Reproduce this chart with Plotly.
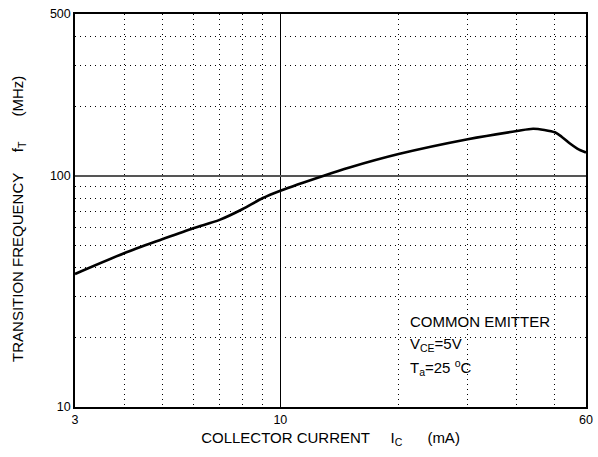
import plotly.graph_objects as go
import math

# Data
collector_current_mA = [3, 4, 5, 6, 7, 8, 9, 10, 12.9, 15, 20, 30, 40, 44, 47, 50, 52, 54.5, 57, 60]
transition_freq_MHz = [37.6, 46.2, 53.1, 59.3, 64.4, 71.6, 79.9, 86.1, 100, 108.5, 124, 143.7, 156, 159.6, 157.7, 154, 147.4, 138, 131, 126]

x_tick_vals = [3, 10, 60]
x_tick_text = ["3", "10", "60"]
y_tick_vals = [10, 100, 500]
y_tick_text = ["10", "100", "500"]
x_minor_grid = [4, 5, 6, 7, 8, 9, 20, 30, 40, 50]
y_minor_grid = [20, 30, 40, 50, 60, 70, 80, 90, 200, 300, 400]

FONT = "Arial, Liberation Sans, sans-serif"

fig = go.Figure()
fig.add_trace(go.Scatter(
    x=collector_current_mA, y=transition_freq_MHz,
    mode="lines", line=dict(color="black", width=2.6, shape="spline", smoothing=0.8),
    hoverinfo="skip", showlegend=False,
))

fig.update_layout(
    width=598, height=457,
    margin=dict(l=75, r=5, t=14, b=50),
    paper_bgcolor="white", plot_bgcolor="white",
    font=dict(family=FONT, size=12, color="black"),
    showlegend=False,
)

fig.update_xaxes(
    type="log", range=[math.log10(3), math.log10(60)],
    tickmode="array", tickvals=x_tick_vals, ticktext=x_tick_text,
    ticks="", tickfont=dict(size=12.5, family=FONT),
    showgrid=True, gridcolor="black", gridwidth=1,
    minor=dict(tickmode="array", tickvals=x_minor_grid, showgrid=True,
               gridcolor="black", gridwidth=1, griddash="1px,4px", ticks=""),
    showline=True, linecolor="black", linewidth=1.5, mirror=True,
    zeroline=False,
    title=dict(text="COLLECTOR CURRENT     I<sub>C</sub>      (mA)", font=dict(size=15, family=FONT), standoff=7),
)
fig.update_yaxes(
    type="log", range=[1, math.log10(500)],
    tickmode="array", tickvals=y_tick_vals, ticktext=y_tick_text,
    ticks="", tickfont=dict(size=12.5, family=FONT),
    showgrid=True, gridcolor="#555555", gridwidth=1.6,
    minor=dict(tickmode="array", tickvals=y_minor_grid, showgrid=True,
               gridcolor="black", gridwidth=1, griddash="1px,4px", ticks=""),
    showline=True, linecolor="black", linewidth=1.5, mirror=True,
    zeroline=False,
)

fig.add_annotation(x=-0.112, y=0.478, xref="paper", yref="paper", xanchor="center", yanchor="middle",
                   textangle=-90, showarrow=False,
                   text="TRANSITION FREQUENCY     f<sub>T</sub>      (MHz)", font=dict(size=15, family=FONT))

fig.add_annotation(x=0.652, y=0.218, xref="paper", yref="paper", xanchor="left", yanchor="middle",
                   text="COMMON EMITTER", showarrow=False, font=dict(size=15, family=FONT))
fig.add_annotation(x=0.652, y=0.160, xref="paper", yref="paper", xanchor="left", yanchor="middle",
                   text="V<sub>CE</sub>=5V", showarrow=False, font=dict(size=15, family=FONT))
fig.add_annotation(x=0.652, y=0.100, xref="paper", yref="paper", xanchor="left", yanchor="middle",
                   text="T<sub>a</sub>=25 <sup>o</sup>C", showarrow=False, font=dict(size=15, family=FONT))

fig.write_html("out.html")
